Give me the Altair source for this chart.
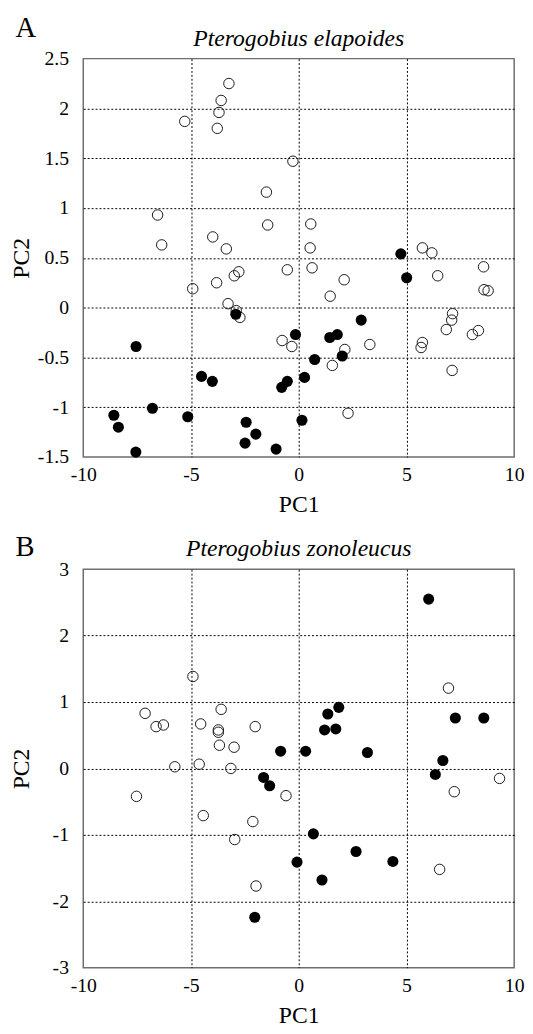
import altair as alt
import pandas as pd

# ---------------- data ----------------
x_ticks = [-10, -5, 0, 5, 10]
a_y_ticks = [-1.5, -1, -0.5, 0, 0.5, 1, 1.5, 2, 2.5]
b_y_ticks = [-3, -2, -1, 0, 1, 2, 3]

titles = ["Pterogobius elapoides", "Pterogobius zonoleucus"]
panel_letters = ["A", "B"]

a_open_pc1 = [-3.24, -3.6, -3.7, -5.29, -3.78, -0.27, -1.50, -6.55, -6.36, -1.44,
              0.56, -3.99, -3.36, 0.53, 5.74, 6.18, -2.78, -2.99, -0.53, 0.62,
              6.45, 8.58, -3.81, 2.11, -4.92, 1.46, 8.6, 8.79, -3.28, -2.73,
              -2.9, 7.14, 7.1, 6.85, 8.06, 8.34, 5.74, 5.68, 7.12, 3.3,
              2.14, 1.56, -0.77, -0.32, 2.29]
a_open_pc2 = [2.25, 2.08, 1.96, 1.87, 1.80, 1.47, 1.16, 0.93, 0.63, 0.83,
              0.84, 0.71, 0.59, 0.60, 0.60, 0.55, 0.36, 0.32, 0.38, 0.40,
              0.32, 0.41, 0.25, 0.28, 0.19, 0.115, 0.18, 0.17, 0.04, -0.098,
              -0.03, -0.06, -0.125, -0.22, -0.27, -0.23, -0.35, -0.40, -0.63, -0.37,
              -0.42, -0.58, -0.33, -0.39, -1.06]
a_filled_pc1 = [4.74, 5.01, -2.92, 2.9, 2.02, 1.44, 1.79, -0.15, 0.74, 0.27,
                -0.53, -0.79, -7.55, -4.51, -4.01, -6.79, -8.58, -8.37, -5.15, -7.56,
                -2.44, -1.99, -2.49, -1.05, 0.15]
a_filled_pc2 = [0.54, 0.30, -0.066, -0.125, -0.485, -0.30, -0.27, -0.27, -0.52, -0.70,
                -0.74, -0.80, -0.39, -0.69, -0.74, -1.01, -1.08, -1.20, -1.095, -1.45,
                -1.15, -1.27, -1.36, -1.42, -1.13]

b_open_pc1 = [-4.91, 6.95, -7.13, -3.6, -6.62, -6.28, -4.55, -3.73, -3.73, -2.02,
              -3.68, -3.0, -5.75, -4.62, -3.15, -7.53, -4.43, -0.59, -2.13, -2.97,
              -1.98, 6.54, 7.22, 9.32]
b_open_pc2 = [1.385, 1.21, 0.83, 0.89, 0.63, 0.655, 0.67, 0.58, 0.545, 0.63,
              0.35, 0.32, 0.025, 0.064, 0.0, -0.42, -0.71, -0.41, -0.80, -1.07,
              -1.77, -1.52, -0.35, -0.15]
b_filled_pc1 = [6.03, 1.86, 1.35, 1.2, 1.72, -0.84, 0.32, 3.19, 7.27, 8.59,
                6.69, 6.34, -1.63, -1.35, 0.68, -0.08, 2.66, 4.37, 1.08, -2.04]
b_filled_pc2 = [2.55, 0.92, 0.82, 0.58, 0.595, 0.26, 0.26, 0.24, 0.76, 0.76,
                0.12, -0.09, -0.135, -0.26, -0.985, -1.41, -1.25, -1.40, -1.68, -2.24]

# ---------------- styling ----------------
SERIF = "Liberation Serif"
W, H = 438, 405


def panel(open_x, open_y, filled_x, filled_y, y_ticks, title, letter, letter_y):
    df = pd.DataFrame({
        "PC1": open_x + filled_x,
        "PC2": open_y + filled_y,
        "group": ["open"] * len(open_x) + ["filled"] * len(filled_x),
    })
    y_lo, y_hi = y_ticks[0], y_ticks[-1]
    x_axis = alt.Axis(
        values=x_ticks, title="PC1", labelExpr="'' + datum.value",
        grid=True, gridColor="#000000", gridDash=[2, 2], gridWidth=1,
        gridOpacity={"condition": {"test": "datum.value <= -10 || datum.value >= 10", "value": 0}, "value": 1},
        domain=False, ticks=False, tickSize=0, labelFlush=False, labelOverlap=False,
        labelFont=SERIF, labelFontSize=20, labelColor="black", labelPadding=8,
        titleFont=SERIF, titleFontSize=24, titleFontWeight="normal", titleColor="black",
        titleY=55.7, titleBaseline="alphabetic",
    )
    y_axis = alt.Axis(
        values=y_ticks, title="PC2", labelExpr="'' + datum.value",
        grid=True, gridColor="#000000", gridDash=[2, 2], gridWidth=1,
        gridOpacity={"condition": {"test": f"datum.value <= {y_lo} || datum.value >= {y_hi}", "value": 0}, "value": 1},
        domain=False, ticks=False, tickSize=0, labelFlush=False, labelOverlap=False,
        labelFont=SERIF, labelFontSize=20, labelColor="black", labelPadding=15,
        titleFont=SERIF, titleFontSize=24, titleFontWeight="normal", titleColor="black",
        titleX=-62.5, titleY=H / 2, titleBaseline="middle", titleAlign="center",
    )
    base = alt.Chart(df).encode(
        x=alt.X("PC1:Q", scale=alt.Scale(domain=[-10, 10], nice=False, zero=False), axis=x_axis),
        y=alt.Y("PC2:Q", scale=alt.Scale(domain=[y_lo, y_hi], nice=False, zero=False), axis=y_axis),
    )
    opens = base.transform_filter(alt.datum.group == "open").mark_point(
        shape="circle", filled=False, size=113, color="#1a1a1a", strokeWidth=1, opacity=1
    )
    fills = base.transform_filter(alt.datum.group == "filled").mark_circle(
        size=127, color="#000000", opacity=1
    )
    title_df = pd.DataFrame({"t": [title]})
    title_mark = alt.Chart(title_df).mark_text(
        font=SERIF, fontSize=24, fontStyle="italic", align="center", baseline="alphabetic", color="black"
    ).encode(text="t:N", x=alt.value(W / 2), y=alt.value(-13.3))
    letter_df = pd.DataFrame({"t": [letter]})
    letter_mark = alt.Chart(letter_df).mark_text(
        font=SERIF, fontSize=29, align="left", baseline="alphabetic", color="black"
    ).encode(text="t:N", x=alt.value(-69), y=alt.value(letter_y))
    return alt.layer(opens, fills, title_mark, letter_mark).properties(width=W, height=H)


top = panel(a_open_pc1, a_open_pc2, a_filled_pc1, a_filled_pc2, a_y_ticks, titles[0], panel_letters[0], -22)
bottom = panel(b_open_pc1, b_open_pc2, b_filled_pc1, b_filled_pc2, b_y_ticks, titles[1], panel_letters[1], -13)

chart = alt.vconcat(top, bottom, spacing=15).properties(
    padding={"left": 0.5, "top": -3, "right": 0, "bottom": 0},
    background="white",
).configure_view(stroke="#6e6e6e", strokeWidth=1.5)

chart.save("out.html", embed_options={"renderer": "svg", "actions": False})
